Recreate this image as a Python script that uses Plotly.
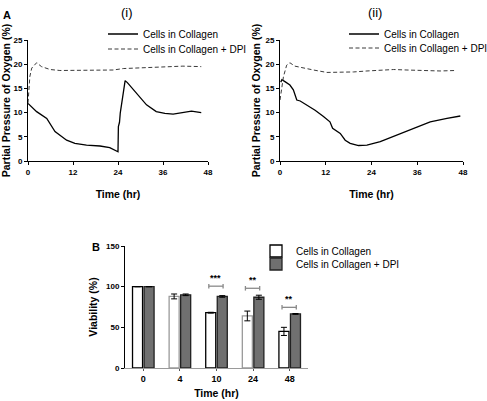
import plotly.graph_objects as go

# ---------------- data ----------------
# Panel A (i)
t_i_ctrl = [0, 2.3, 5.0, 7.2, 10.3, 12.5, 15.6, 19.2, 21.8, 24.0, 24.1, 24.4, 24.6, 25.9, 26.5, 28.1, 30.0, 31.6, 34.2, 36.5, 38.7, 41.3, 43.6, 46.2]
o_i_ctrl = [11.9, 10.2, 8.8, 6.1, 4.3, 3.65, 3.3, 3.1, 2.75, 1.9, 7.1, 8.0, 9.9, 16.6, 16.2, 14.7, 13.0, 11.6, 10.2, 9.85, 9.7, 10.0, 10.3, 10.0]
t_i_dpi = [0, 0.5, 1.0, 1.9, 2.3, 3.6, 5.9, 8.5, 12, 15.6, 19.2, 22.7, 25.4, 29.8, 33.4, 36.9, 41.3, 46.2]
o_i_dpi = [12.0, 17.5, 19.2, 20.1, 20.3, 19.5, 18.9, 18.7, 18.7, 18.7, 18.8, 18.8, 19.1, 19.2, 19.4, 19.5, 19.6, 19.5]

# Panel A (ii)
t_ii_ctrl = [0.2, 0.5, 1.3, 2.6, 3.5, 4.4, 5.3, 7.0, 9.2, 11.4, 13.1, 13.8, 14.9, 15.8, 17.1, 18.4, 20.6, 22.8, 26.3, 30.7, 35.0, 39.4, 43.8, 47.3]
o_ii_ctrl = [16.3, 16.8, 16.4, 15.7, 14.7, 12.6, 12.4, 11.6, 10.5, 9.2, 8.1, 6.75, 6.2, 5.7, 4.3, 3.65, 3.2, 3.3, 4.0, 5.4, 6.75, 8.1, 8.8, 9.3]
t_ii_dpi = [0, 0.9, 1.75, 2.6, 3.9, 6.1, 8.8, 12.3, 15.8, 19.3, 22.8, 26.3, 29.8, 33.3, 37.7, 42, 46]
o_ii_dpi = [12.6, 17.4, 19.8, 20.3, 19.6, 19.2, 18.8, 18.3, 18.3, 18.4, 18.6, 18.8, 18.9, 18.8, 18.7, 18.6, 18.7]

# Panel B
time_labels = ["0", "4", "10", "24", "48"]
viab_ctrl = [100, 88, 68, 64, 45]
viab_ctrl_err = [0, 3, 0.5, 6, 5]
viab_dpi = [100, 90, 88, 87, 66.5]
viab_dpi_err = [0, 1, 1, 2.5, 0.5]
ctrl_outline = ["black", "#9a9a9a", "black", "#9a9a9a", "black"]
sig_index = [2, 3, 4]
sig_height = [100.6, 98, 74.6]
sig_stars = ["***", "**", "**"]

FONT = "Liberation Sans, Arial, sans-serif"
W, H = 487, 401

fig = go.Figure()

line_solid = dict(color="black", width=1.3)
line_dash = dict(color="#3a3a3a", width=1, dash="4px,2.5px")

fig.add_trace(go.Scatter(x=t_i_ctrl, y=o_i_ctrl, mode="lines", line=line_solid,
                         name="Cells in Collagen", legend="legend", xaxis="x", yaxis="y"))
fig.add_trace(go.Scatter(x=t_i_dpi, y=o_i_dpi, mode="lines", line=line_dash,
                         name="Cells in Collagen + DPI", legend="legend2", xaxis="x", yaxis="y"))
fig.add_trace(go.Scatter(x=t_ii_ctrl, y=o_ii_ctrl, mode="lines", line=line_solid,
                         name="Cells in Collagen", legend="legend3", xaxis="x2", yaxis="y2"))
fig.add_trace(go.Scatter(x=t_ii_dpi, y=o_ii_dpi, mode="lines", line=line_dash,
                         name="Cells in Collagen + DPI", legend="legend4", xaxis="x2", yaxis="y2"))

idx = list(range(len(time_labels)))
fig.add_trace(go.Bar(x=idx, y=viab_ctrl, name="Cells in Collagen", legend="legend5",
                     marker=dict(color="white", line=dict(color=ctrl_outline, width=1.3)),
                     error_y=dict(type="data", array=viab_ctrl_err, color="black", thickness=1, width=3),
                     xaxis="x3", yaxis="y3"))
fig.add_trace(go.Bar(x=idx, y=viab_dpi, name="Cells in Collagen + DPI", legend="legend6",
                     marker=dict(color="#707070", line=dict(color="#222222", width=1.3)),
                     error_y=dict(type="data", array=viab_dpi_err, color="black", thickness=1, width=3),
                     xaxis="x3", yaxis="y3"))

# significance brackets
shapes = []
annotations = []
for i, h, s in zip(sig_index, sig_height, sig_stars):
    x0, x1 = i - 0.21, i + 0.18
    for seg in [(x0, h, x1, h), (x0, h - 2.8, x0, h + 2.8), (x1, h - 2.8, x1, h + 2.8)]:
        shapes.append(dict(type="line", xref="x3", yref="y3", x0=seg[0], y0=seg[1], x1=seg[2], y1=seg[3],
                           line=dict(color="#8a8a8a", width=1.3)))
    annotations.append(dict(x=(x0 + x1) / 2, y=h + 2, xref="x3", yref="y3", text=s, showarrow=False,
                            yanchor="bottom", font=dict(size=9, family=FONT, color="black", weight="bold")))

def txt(x, y, text, size, bold=False, xanchor="center", angle=0):
    annotations.append(dict(x=x / W, y=1 - y / H, xref="paper", yref="paper", text=text, showarrow=False,
                            xanchor=xanchor, yanchor="middle", textangle=angle,
                            font=dict(size=size, family=FONT, color="black", weight="bold" if bold else "normal")))

txt(1, 15, "A", 11, True, "left")
txt(127, 13, "(i)", 13)
txt(375, 13, "(ii)", 13)
txt(90, 247, "B", 11, True, "left")

tickfont = dict(size=8, family=FONT, color="black", weight="bold")
titlefont = dict(size=10.5, family=FONT, color="black", weight="bold")

def xa(domain, anchor):
    return dict(domain=domain, anchor=anchor, range=[0, 48], tickvals=[0, 12, 24, 36, 48],
                showline=True, linecolor="black", linewidth=1, ticks="outside", ticklen=3, tickwidth=1,
                tickcolor="black", showgrid=False, zeroline=False, tickfont=tickfont, automargin=False,
                title=dict(text="Time (hr)", font=titlefont, standoff=15))

def ya(domain, anchor):
    return dict(domain=domain, anchor=anchor, range=[0, 25], tickvals=[0, 5, 10, 15, 20, 25],
                showline=True, linecolor="black", linewidth=1, ticks="outside", ticklen=3, tickwidth=1,
                tickcolor="black", showgrid=False, zeroline=False, tickfont=tickfont, automargin=False,
                title=dict(text="Partial Pressure of Oxygen (%)", font=titlefont, standoff=2))

yA = [1 - 161 / H, 1 - 40 / H]
legfont = dict(size=10, family=FONT, color="black")

def leg(text_x, row_y):
    return dict(x=(text_x - 40) / W, y=1 - row_y / H, xanchor="left", yanchor="middle", font=legfont,
                bgcolor="rgba(0,0,0,0)", itemwidth=30, borderwidth=0)

fig.update_layout(
    width=W, height=H, margin=dict(l=0, r=0, t=0, b=0, autoexpand=False),
    paper_bgcolor="white", plot_bgcolor="white", showlegend=True,
    font=dict(family=FONT, color="black"),
    barmode="group", bargap=0.37, bargroupgap=0.13,
    xaxis=xa([28 / W, 208 / W], "y"),
    yaxis=ya(yA, "x"),
    xaxis2=xa([280 / W, 463 / W], "y2"),
    yaxis2=ya(yA, "x2"),
    xaxis3=dict(domain=[125 / W, 308 / W], anchor="y3", range=[-0.5, 4.5], tickvals=idx, ticktext=time_labels,
                showline=True, linecolor="#9a9a9a", linewidth=1.3, ticks="outside", ticklen=2, tickcolor="#555555",
                showgrid=False, zeroline=False, automargin=False,
                tickfont=dict(size=9, family=FONT, color="black", weight="bold"),
                title=dict(text="Time (hr)", font=titlefont, standoff=6)),
    yaxis3=dict(domain=[1 - 368 / H, 1 - 246 / H], anchor="x3", range=[0, 150], tickvals=[0, 50, 100, 150],
                showline=True, linecolor="black", linewidth=1, ticks="outside", ticklen=3, tickcolor="black",
                showgrid=False, zeroline=False, tickfont=tickfont, automargin=False,
                title=dict(text="Viability (%)", font=titlefont, standoff=6)),
    legend=leg(143, 34), legend2=leg(143, 49),
    legend3=leg(384, 34), legend4=leg(384, 48),
    legend5=leg(296, 251), legend6=leg(296, 264),
    shapes=shapes, annotations=annotations,
)

fig.write_html("out.html", config={"displayModeBar": False},
               post_script="document.body.style.margin='0';document.body.style.padding='0';")
